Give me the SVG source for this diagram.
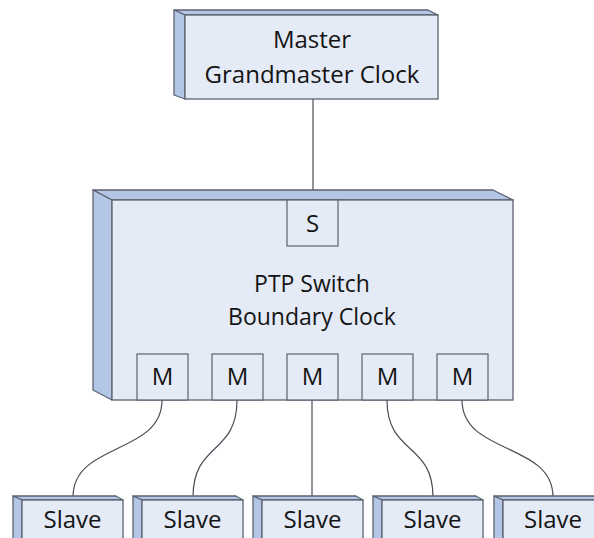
<svg xmlns="http://www.w3.org/2000/svg" width="594" height="538" viewBox="0 0 594 538">
<style>
.front{fill:#E4EAF6;stroke:#5C6270;stroke-width:1.3}
.side{fill:#B3C6E6;stroke:#5C6270;stroke-width:1.3;stroke-linejoin:round}
.port{fill:#E4EAF6;stroke:#5C6270;stroke-width:1.2}
.wire{fill:none;stroke:#4A4E57;stroke-width:1.2}
text{font-family:"Open Sans","Noto Sans","Liberation Sans",sans-serif;fill:#141414;text-anchor:middle}
.big{font-size:24px}
.mid{font-size:23px}
.sm{font-size:24px}
</style>
<rect width="594" height="538" fill="#FFFFFF"/>
<g id="connectors">
<line class="wire" x1="313" y1="99" x2="313" y2="200"/>
<path class="wire" d="M162,400 C162,455 73,442 73,497"/>
<path class="wire" d="M237,400 C237,455 193,442 193,497"/>
<path class="wire" d="M312,400 L312,497"/>
<path class="wire" d="M387,400 C387,455 433,442 433,497"/>
<path class="wire" d="M462,400 C462,455 553,442 553,497"/>
</g>
<g id="master">
<polygon class="side" points="174,10 428,10 438,15 185,15"/>
<polygon class="side" points="174,10 185,15 185,99 174,95"/>
<rect class="front" x="185" y="15" width="253" height="84"/>
<text class="big" x="312" y="48">Master</text>
<text class="big" x="312" y="83">Grandmaster Clock</text>
</g>
<g id="switch">
<polygon class="side" points="93,190 493,190 513,200 112,200"/>
<polygon class="side" points="93,190 112,200 112,400 93,390"/>
<rect class="front" x="112" y="200" width="401" height="200"/>
<text class="mid" x="312" y="292">PTP Switch</text>
<text class="mid" x="312" y="325">Boundary Clock</text>
</g>
<g id="port-s">
<rect class="port" x="287" y="200" width="51" height="46"/>
<text class="sm" x="312.5" y="232">S</text>
</g>
<g id="port-m1"><rect class="port" x="137" y="354" width="51" height="46"/><text class="sm" x="162.5" y="385">M</text></g>
<g id="port-m2"><rect class="port" x="212" y="354" width="51" height="46"/><text class="sm" x="237.5" y="385">M</text></g>
<g id="port-m3"><rect class="port" x="287" y="354" width="51" height="46"/><text class="sm" x="312.5" y="385">M</text></g>
<g id="port-m4"><rect class="port" x="362" y="354" width="51" height="46"/><text class="sm" x="387.5" y="385">M</text></g>
<g id="port-m5"><rect class="port" x="437" y="354" width="51" height="46"/><text class="sm" x="462.5" y="385">M</text></g>
<g id="slave1">
<polygon class="side" points="13,496 116,496 123,500 22,500"/>
<polygon class="side" points="13,496 22,500 22,545 13,541"/>
<rect class="front" x="22" y="500" width="101" height="45"/>
<text class="sm" x="72.5" y="528">Slave</text>
</g>
<g id="slave2">
<polygon class="side" points="133,496 236,496 243,500 142,500"/>
<polygon class="side" points="133,496 142,500 142,545 133,541"/>
<rect class="front" x="142" y="500" width="101" height="45"/>
<text class="sm" x="192.5" y="528">Slave</text>
</g>
<g id="slave3">
<polygon class="side" points="253,496 356,496 363,500 262,500"/>
<polygon class="side" points="253,496 262,500 262,545 253,541"/>
<rect class="front" x="262" y="500" width="101" height="45"/>
<text class="sm" x="312.5" y="528">Slave</text>
</g>
<g id="slave4">
<polygon class="side" points="373,496 476,496 483,500 382,500"/>
<polygon class="side" points="373,496 382,500 382,545 373,541"/>
<rect class="front" x="382" y="500" width="101" height="45"/>
<text class="sm" x="432.5" y="528">Slave</text>
</g>
<g id="slave5">
<polygon class="side" points="494,496 597,496 604,500 503,500"/>
<polygon class="side" points="494,496 503,500 503,545 494,541"/>
<rect class="front" x="503" y="500" width="101" height="45"/>
<text class="sm" x="553" y="528">Slave</text>
</g>
</svg>
